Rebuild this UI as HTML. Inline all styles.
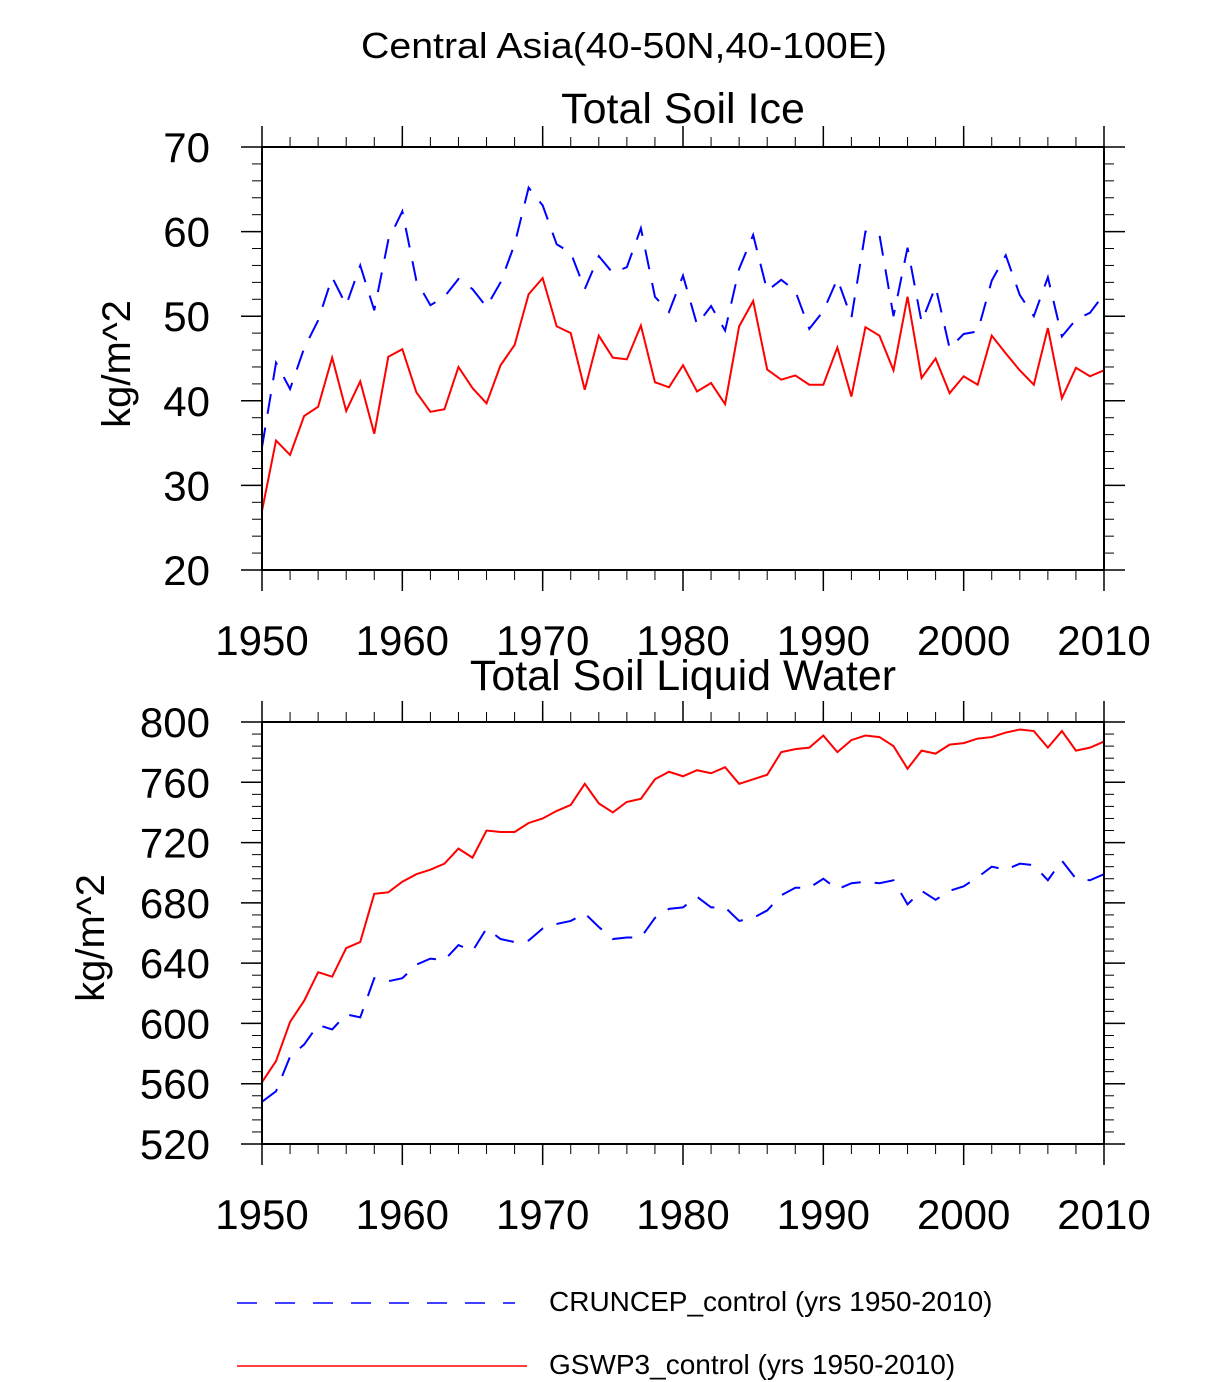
<!DOCTYPE html>
<html><head><meta charset="utf-8"><style>
html,body{margin:0;padding:0;background:#fff}
svg{display:block;font-family:"Liberation Sans",Arial,sans-serif}
</style></head><body>
<svg id="c" width="1224" height="1382" viewBox="0 0 1224 1382">
<text x="624" y="58" font-size="36" textLength="526" lengthAdjust="spacingAndGlyphs" text-anchor="middle">Central Asia(40-50N,40-100E)</text>
<text x="683" y="123" font-size="43" text-anchor="middle">Total Soil Ice</text>
<text x="683" y="690" font-size="43" text-anchor="middle">Total Soil Liquid Water</text>
<text transform="translate(130,364) rotate(-90)" font-size="40" text-anchor="middle">kg/m^2</text>
<text transform="translate(104,938) rotate(-90)" font-size="40" text-anchor="middle">kg/m^2</text>
<g>
<line x1="237" y1="1303" x2="515" y2="1303" stroke="#0000ff" stroke-width="1.5" stroke-dasharray="20,18"/>
<text x="549" y="1311" font-size="28">CRUNCEP_control (yrs 1950-2010)</text>
<line x1="237" y1="1366" x2="527" y2="1366" stroke="#ff0000" stroke-width="1.5"/>
<text x="549" y="1374" font-size="28">GSWP3_control (yrs 1950-2010)</text>
</g>
</svg>
<script>
const years=[];for(let y=1950;y<=2010;y++)years.push(y);
const iceGSWP3=[27,35.3,33.6,38.2,39.3,45.1,38.8,42.3,36.1,45.2,46.1,41,38.7,39,44,41.5,39.7,44.2,46.6,52.6,54.5,48.8,48,41.3,47.7,45.1,44.9,48.9,42.2,41.6,44.2,41.1,42.1,39.6,48.8,51.8,43.7,42.5,43,41.9,41.9,46.3,40.5,48.7,47.7,43.6,52.3,42.7,45,40.9,42.9,41.9,47.7,45.6,43.6,41.9,48.6,40.3,43.9,42.9,43.6];
const iceCRUNCEP=[34.5,44.5,41.4,46.2,49.5,54.6,51.3,56,50.7,59,62.4,54.2,51.3,52.3,54.4,53.2,51.1,54,58.5,65.2,63.1,58.5,57.5,53.2,57.1,55.1,55.8,60.4,52.3,50.5,54.8,49,51.2,48.3,55.6,59.6,53,54.3,53,48.5,50.6,54.4,49.8,60,59.6,50,58.1,49.3,53.5,46.2,47.9,48.2,54.2,57.2,52.5,50,54.6,47.6,49.6,50.4,52.6];
const liqGSWP3=[561,575,601,615,634,631,650,654,686,687,694,699,702,706,716,710,728,727,727,733,736,741,745,759,746,740,747,749,762,767,764,768,766,770,759,762,765,780,782,783,791,780,788,791,790,784,769,781,779,785,786,789,790,793,795,794,783,794,781,783,787];
const liqCRUNCEP=[548,555,578,586,599,596,606,604,630,628,630,639,643,642,652,648,663,656,654,655,663,666,668,673,664,656,657,657,670,676,677,684,677,677,668,670,675,685,690,690,696,689,693,694,693,695,679,688,682,688,691,697,704,702,706,705,695,708,696,695,699];
const xTicks=[1950,1960,1970,1980,1990,2000,2010];
const iceYTicks=[20,30,40,50,60,70];
const liqYTicks=[520,560,600,640,680,720,760,800];

const NS="http://www.w3.org/2000/svg";
const svg=document.getElementById('c');
function mk(t,a,p){const e=document.createElementNS(NS,t);for(const k in a)e.setAttribute(k,a[k]);(p||svg).appendChild(e);return e;}

function panel(name,top,bot,ymin,ymax,yTicks,minorStep,gs,cr,labY){
  const L=262,R=1104;
  const sx=v=>L+(v-1950)/(2010-1950)*(R-L);
  const sy=v=>bot-(v-ymin)/(ymax-ymin)*(bot-top);
  const g=mk('g',{});
  
  
  for(let y=1950;y<=2010;y+=2){const x=sx(y);
    mk('line',{x1:x,y1:top,x2:x,y2:top-10,stroke:'#000','stroke-width':1},g);
    mk('line',{x1:x,y1:bot,x2:x,y2:bot+10,stroke:'#000','stroke-width':1},g);}
  for(let v=ymin;v<=ymax+1e-9;v+=minorStep){const y=sy(v);
    mk('line',{x1:L,y1:y,x2:L-10,y2:y,stroke:'#000','stroke-width':1},g);
    mk('line',{x1:R,y1:y,x2:R+10,y2:y,stroke:'#000','stroke-width':1},g);}
  xTicks.forEach(t=>{const x=sx(t);
    mk('line',{x1:x,y1:top,x2:x,y2:top-21,stroke:'#000','stroke-width':1.5},g);
    mk('line',{x1:x,y1:bot,x2:x,y2:bot+21,stroke:'#000','stroke-width':1.5},g);
    const tx=mk('text',{x:x,y:labY,'font-size':42,'text-anchor':'middle'},g);tx.textContent=t;
    
    });
  yTicks.forEach(t=>{const y=sy(t);
    mk('line',{x1:L,y1:y,x2:L-21,y2:y,stroke:'#000','stroke-width':1.5},g);
    mk('line',{x1:R,y1:y,x2:R+21,y2:y,stroke:'#000','stroke-width':1.5},g);
    const tx=mk('text',{x:210,y:y+15,'font-size':42,'text-anchor':'end'},g);tx.textContent=t;
    
    });
  const cp=mk('path',{d:'M'+years.map((y,i)=>sx(y)+','+sy(cr[i])).join('L'),fill:'none',stroke:'#0000ff','stroke-width':2,'stroke-dasharray':'20,14'},g);
  
  
  const gp=mk('path',{d:'M'+years.map((y,i)=>sx(y)+','+sy(gs[i])).join('L'),fill:'none',stroke:'#ff0000','stroke-width':2},g);
  
  
  const fr=mk('rect',{x:L,y:top,width:R-L,height:bot-top,fill:'none',stroke:'#000','stroke-width':2},g);
  
  
}
panel('ice',147,570,20,70,iceYTicks,2,iceGSWP3,iceCRUNCEP,655);
panel('liquid',722,1144,520,800,liqYTicks,8,liqGSWP3,liqCRUNCEP,1229);
</script>
</body></html>
